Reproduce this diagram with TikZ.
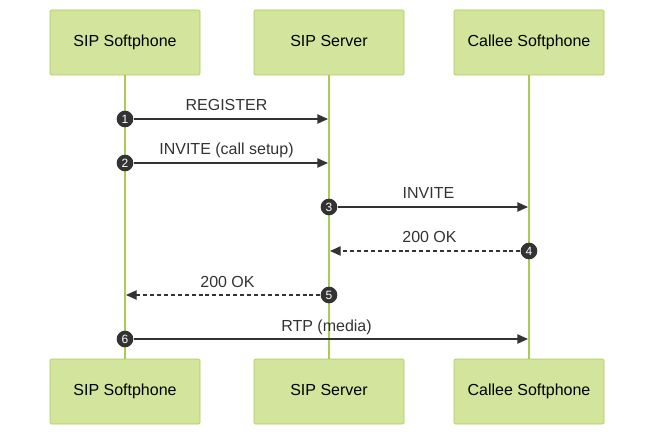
\documentclass[tikz,border=0pt]{standalone}
\usepackage{fontspec}
\setmainfont{Liberation Sans}
\usetikzlibrary{arrows.meta,calc}
\definecolor{boxfill}{HTML}{D3E49C}
\definecolor{boxline}{HTML}{A9CC52}
\definecolor{msgline}{HTML}{333333}
\tikzset{actor/.style={draw=boxline,fill=boxfill,rounded corners=1pt,minimum width=112.5pt,minimum height=48.75pt,text height=8.6pt,text depth=2.4pt,font=\fontsize{12}{14}\selectfont},
  life/.style={boxline,line width=1.1pt},
  msg/.style={msgline,line width=1pt,-{Triangle[length=8pt,width=7pt]}},
  reply/.style={msg,dash pattern=on 3pt off 2.2pt},
  stepmark/.style={circle,fill=msgline,text=white,inner sep=0pt,minimum size=12.5pt,font=\fontsize{9}{10}\selectfont},
  lbl/.style={font=\fontsize{12}{14}\selectfont,text=msgline,anchor=base,text depth=0pt}}
\begin{document}
\begin{tikzpicture}[x=0.75pt,y=-0.75pt]
\useasboundingbox (0,0) rectangle (654,435);
% lifelines
\draw[life] (125,75) -- (125,359);
\draw[life] (329,75) -- (329,359);
\draw[life] (529,75) -- (529,359);
% participants
\node[actor] (phoneT) at (125,42.5) {SIP Softphone};
\node[actor] (srvT) at (329,42.5) {SIP Server};
\node[actor] (calleeT) at (529,42.5) {Callee Softphone};
\node[actor] (phoneB) at (125,391.5) {SIP Softphone};
\node[actor] (srvB) at (329,391.5) {SIP Server};
\node[actor] (calleeB) at (529,391.5) {Callee Softphone};
% messages
\node[stepmark] (s1) at (125,119) {1};
\coordinate (e1) at (328,119);
\draw[msg] (s1) -- (e1);
\node[lbl] at ($(s1)!0.5!(e1)+(0,-8)$) {REGISTER};
\node[stepmark] (s2) at (125,163) {2};
\coordinate (e2) at (328,163);
\draw[msg] (s2) -- (e2);
\node[lbl] at ($(s2)!0.5!(e2)+(0,-8)$) {INVITE (call setup)};
\node[stepmark] (s3) at (329,207) {3};
\coordinate (e3) at (528,207);
\draw[msg] (s3) -- (e3);
\node[lbl] at ($(s3)!0.5!(e3)+(0,-8)$) {INVITE};
\node[stepmark] (s4) at (529,251) {4};
\coordinate (e4) at (330,251);
\draw[reply] (s4) -- (e4);
\node[lbl] at ($(s4)!0.5!(e4)+(0,-8)$) {200 OK};
\node[stepmark] (s5) at (329,295) {5};
\coordinate (e5) at (126,295);
\draw[reply] (s5) -- (e5);
\node[lbl] at ($(s5)!0.5!(e5)+(0,-8)$) {200 OK};
\node[stepmark] (s6) at (125,339) {6};
\coordinate (e6) at (528,339);
\draw[msg] (s6) -- (e6);
\node[lbl] at ($(s6)!0.5!(e6)+(0,-8)$) {RTP (media)};
\end{tikzpicture}
\end{document}
